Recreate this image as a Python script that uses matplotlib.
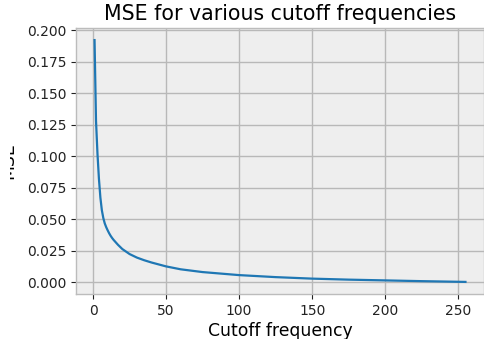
import matplotlib
matplotlib.use("Agg")
import matplotlib.pyplot as plt
from matplotlib.transforms import Bbox, TransformedBbox

# Data
cutoff = [1, 2, 3, 4, 5, 6, 7, 8, 9, 10, 11, 12, 13, 14, 15, 17, 20, 25, 30,
          35, 40, 50, 60, 75, 100, 125, 150, 175, 200, 225, 255]
mse = [0.192, 0.128, 0.102, 0.082, 0.067, 0.057, 0.0508, 0.0465, 0.0435,
       0.041, 0.0387, 0.0367, 0.035, 0.0335, 0.0322, 0.0296, 0.0262, 0.0222,
       0.0194, 0.0173, 0.0155, 0.0124, 0.0101, 0.0079, 0.0055, 0.0039,
       0.0027, 0.0019, 0.0013, 0.0007, 0.0001]
xticks = [0, 50, 100, 150, 200, 250]
yticks = [0.000, 0.025, 0.050, 0.075, 0.100, 0.125, 0.150, 0.175, 0.200]

fig = plt.figure(figsize=(4.85, 3.39), dpi=100)
ax = fig.add_axes([76 / 485, 45 / 339, 408 / 485, 266 / 339])
ax.set_facecolor("#eeeeee")
for s in ax.spines.values():
    s.set_color("#bcbcbc")
    s.set_linewidth(1.0)
ax.grid(True, color="#b8b8b8", linewidth=1.0)
ax.set_axisbelow(True)

ax.plot(cutoff, mse, color="#1f77b4", linewidth=1.6)

ax.set_xticks(xticks)
ax.set_yticks(yticks)
ax.tick_params(colors="#222222", labelsize=10, length=3.5)
ax.set_title("MSE for various cutoff frequencies", fontsize=14.8)
ax.set_xlabel("Cutoff frequency", fontsize=12.4, labelpad=3)
ax.set_ylabel("MSE", fontsize=12.4)
ax.yaxis.set_label_coords(-0.145, 0.5)
lab = ax.yaxis.label
lab.set_clip_on(True)
lab.set_clip_box(TransformedBbox(Bbox([[10 / 485, 0], [1, 1]]), fig.transFigure))

fig.savefig("out.png", dpi=100)
